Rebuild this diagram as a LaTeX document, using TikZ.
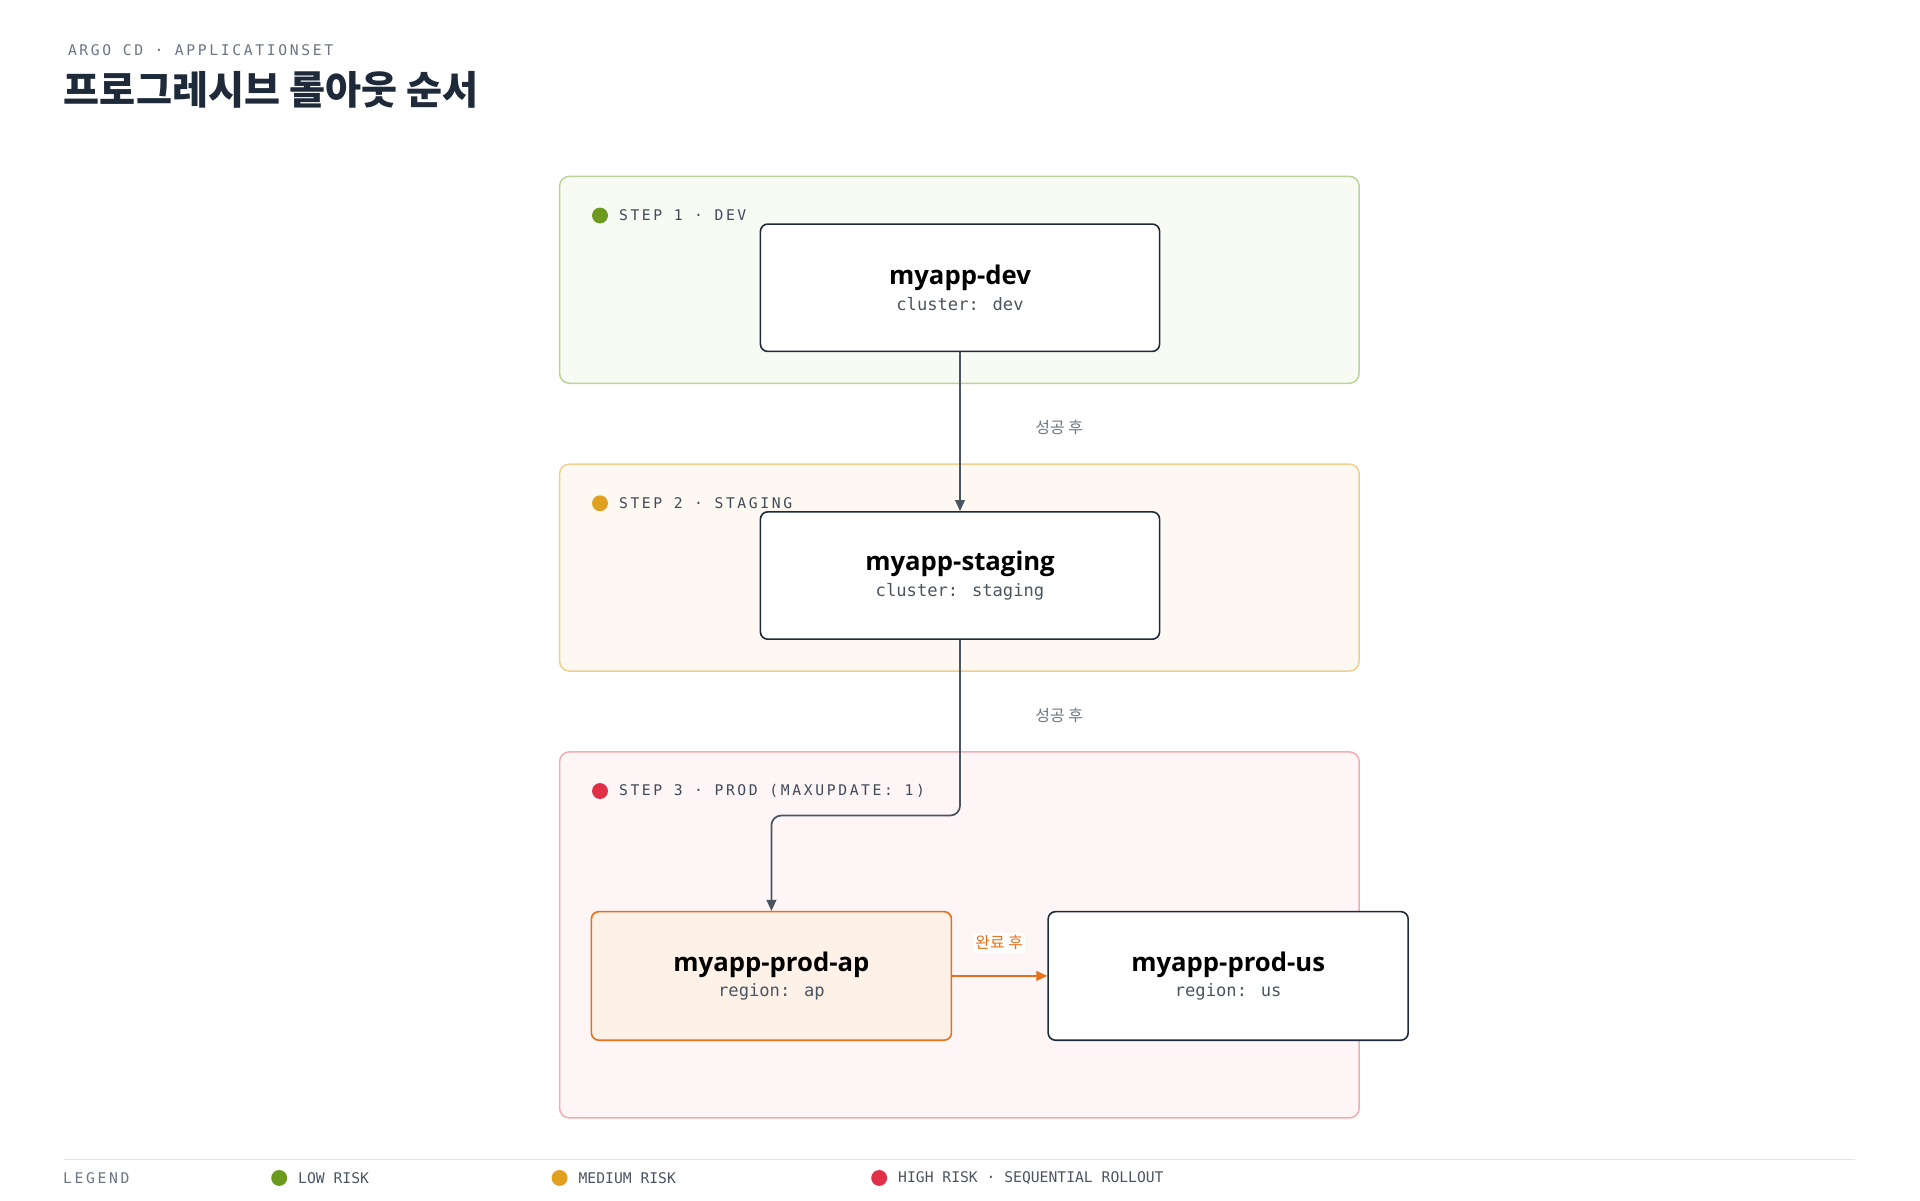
\documentclass[tikz,border=0pt]{standalone}
\usepackage{fontspec}
\setmainfont{Open Sans}
\newfontfamily\cjk{Noto Sans CJK KR}
\newfontfamily\monosp[LetterSpace=18]{DejaVu Sans Mono}
\newfontfamily\mono{DejaVu Sans Mono}
\usetikzlibrary{arrows.meta,positioning}
\definecolor{ink}{HTML}{1E2A3A}
\definecolor{muted}{HTML}{6B7585}
\definecolor{lowrisk}{HTML}{6B9A1E}
\definecolor{medrisk}{HTML}{E0A020}
\definecolor{highrisk}{HTML}{E03048}
\definecolor{rollout}{HTML}{E8701A}
\tikzset{
  stage/.style={draw, rounded corners=8pt, line width=1.2pt},
  app/.style={draw=ink, fill=white, rounded corners=6pt, line width=1.3pt, minimum width=326pt, minimum height=104pt, align=center},
  flow/.style={draw=ink!80, line width=1.4pt, -{Triangle[length=9pt,width=8pt]}},
  steplbl/.style={anchor=west, font=\monosp\fontsize{12}{14}\selectfont, text=ink!85},
  cond/.style={font=\cjk\fontsize{13}{15}\selectfont, text=muted},
}
\newcommand{\apptext}[2]{{\fontsize{21}{26}\selectfont\bfseries #1}\\[4pt]{\mono\fontsize{14}{16}\selectfont\color{ink!80}#2}}
\begin{document}
\begin{tikzpicture}[x=1pt,y=-1pt]
\useasboundingbox (0,0) rectangle (1568,980);
% header
\node[anchor=west, font=\monosp\fontsize{12}{14}\selectfont, text=muted] (kicker) at (52,41) {ARGO CD · APPLICATIONSET};
\node[anchor=west, font=\cjk\bfseries\fontsize{32}{36}\selectfont, text=ink, inner sep=0pt] (title) at (52,73) {프로그레시브 롤아웃 순서};
% stages
\draw[stage, draw=lowrisk!45, fill=lowrisk!5] (457,144) rectangle (1110,313);
\fill[lowrisk] (490,176) circle (6.5);
\node[steplbl] (s1) at (502,176) {STEP 1 · DEV};
\draw[stage, draw=medrisk!50, fill=medrisk!6] (457,379) rectangle (1110,548);
\fill[medrisk] (490,411) circle (6.5);
\node[steplbl] (s2) at (502,411) {STEP 2 · STAGING};
\draw[stage, draw=highrisk!40, fill=highrisk!5] (457,614) rectangle (1110,913);
\fill[highrisk] (490,646) circle (6.5);
\node[steplbl] (s3) at (502,646) {STEP 3 · PROD (MAXUPDATE: 1)};
% apps
\node[app] (dev) at (784,235) {\apptext{myapp-dev}{cluster: dev}};
\node[app] (staging) at (784,470) {\apptext{myapp-staging}{cluster: staging}};
\node[app, draw=rollout, fill=rollout!10, minimum width=294pt, minimum height=105pt] (ap) at (630,797) {\apptext{myapp-prod-ap}{region: ap}};
\node[app, minimum width=294pt, minimum height=105pt] (us) at (1003,797) {\apptext{myapp-prod-us}{region: us}};
% flow
\draw[flow] (dev) -- (staging);
\node[cond] (c1) at (865,349) {성공 후};
\draw[flow, rounded corners=8pt] (staging.south) |- (700,666) -| (ap.north);
\node[cond] (c2) at (865,584) {성공 후};
\draw[flow, draw=rollout] (ap) -- (us);
\node[cond, text=rollout, fill=white, inner sep=2pt] (c3) at (816,770) {완료 후};
% legend
\draw[ink!12, line width=1pt] (52,947) -- (1515,947);
\node[steplbl, font=\monosp\fontsize{12}{14}\selectfont, text=muted] (lg) at (48,962) {LEGEND};
\fill[lowrisk] (228,962) circle (6.5);
\node[steplbl, font=\mono\fontsize{12}{14}\selectfont, text=ink!80] (l1) at (240,962) {LOW RISK};
\fill[medrisk] (457,962) circle (6.5);
\node[steplbl, font=\mono\fontsize{12}{14}\selectfont, text=ink!80] (l2) at (469,962) {MEDIUM RISK};
\fill[highrisk] (718,962) circle (6.5);
\node[steplbl, font=\mono\fontsize{12}{14}\selectfont, text=ink!80] (l3) at (730,962) {HIGH RISK · SEQUENTIAL ROLLOUT};
\end{tikzpicture}
\end{document}
